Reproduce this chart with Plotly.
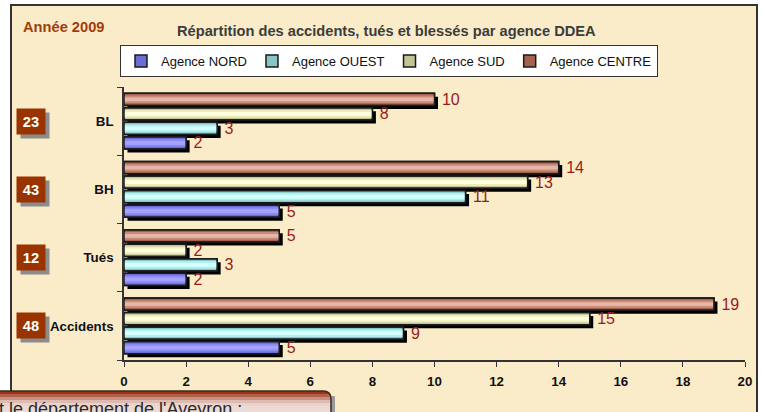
import plotly.graph_objects as go

# ---------------- data ----------------
categories = ["Accidents", "Tués", "BH", "BL"]          # bottom -> top
series_names = ["Agence NORD", "Agence OUEST", "Agence SUD", "Agence CENTRE"]
nord = [5, 2, 5, 2]
ouest = [9, 3, 11, 3]
sud = [15, 2, 13, 8]
centre = [19, 5, 14, 10]
x_ticks = [0, 2, 4, 6, 8, 10, 12, 14, 16, 18, 20]
title_text = "Répartition des accidents, tués et blessés par agence DDEA"
year_text = "Année 2009"
footer_text = "t le département de l'Aveyron :"

series_values = [nord, ouest, sud, centre]
totals = [sum(v[i] for v in series_values) for i in range(len(categories))]

# ---------------- styling ----------------
W, H = 763, 412
L, R, T, B = 124, 745, 87, 360
PANEL = "#FAECC9"
edge_cols = ["#6C6CD8", "#88C6C6", "#C4C496", "#A4624F"]
mid_cols = ["#8A8AF2", "#B4EEEE", "#ECECBE", "#C98C7A"]
light_cols = ["#A4A4FF", "#D4FFFF", "#FFFFDC", "#E8B6A6"]
label_color = "#9A1A1A"
FONT = "Liberation Sans, Arial, sans-serif"


def px_x(p):
    return (p - L) / (R - L)


def px_y(p):
    return (B - p) / (B - T)


unit_px = (R - L) / 20.0
cat_px = (B - T) / len(categories)
sh = 3.5
dx = sh / unit_px
dy = sh / cat_px

fig = go.Figure()

# 1) shadows on primary hidden axes (shifted ranges)
for vals in series_values:
    fig.add_trace(go.Bar(y=categories, x=vals, orientation="h",
                         marker=dict(color="#000000", line=dict(width=0)),
                         showlegend=False, hoverinfo="skip", xaxis="x", yaxis="y"))

# 2) base bars (legend) on x2/y2 — visible axes
for name, vals, col in zip(series_names, series_values, edge_cols):
    fig.add_trace(go.Bar(y=categories, x=vals, orientation="h", name=name,
                         marker=dict(color=col, line=dict(color="#1A1A1A", width=1.5)),
                         xaxis="x2", yaxis="y2"))

# 3) gradient bands on x3/y3 and x4/y4
for vals, col in zip(series_values, mid_cols):
    fig.add_trace(go.Bar(y=categories, x=vals, orientation="h", width=0.115,
                         marker=dict(color=col, line=dict(width=0)),
                         showlegend=False, hoverinfo="skip", xaxis="x3", yaxis="y3"))
for vals, col in zip(series_values, light_cols):
    fig.add_trace(go.Bar(y=categories, x=vals, orientation="h", width=0.055,
                         marker=dict(color=col, line=dict(width=0)),
                         showlegend=False, hoverinfo="skip", xaxis="x4", yaxis="y4"))

# 4) outlines + value labels on x5/y5
for vals in series_values:
    fig.add_trace(go.Bar(y=categories, x=vals, orientation="h",
                         marker=dict(color="rgba(0,0,0,0)", line=dict(color="#1A1A1A", width=1.5)),
                         text=[str(v) for v in vals], texttemplate=" %{text}", textposition="outside",
                         textfont=dict(color=label_color, size=16, family=FONT),
                         constraintext="none", cliponaxis=False,
                         showlegend=False, hoverinfo="skip", xaxis="x5", yaxis="y5"))

shapes = [
    dict(type="rect", xref="paper", yref="paper",
         x0=px_x(11), x1=px_x(757), y0=px_y(5), y1=px_y(430),
         fillcolor=PANEL, line=dict(color="#333333", width=2), layer="below"),
]

# footer box gradient bands
band_cols = ["#9C3517", "#B0604A", "#C8917F", "#DDBBB0", "#EAD3CC", "#EEDAD4", "#EEDAD4"]
top = 391
for i, c in enumerate(band_cols):
    y0 = top + i * 3
    y1 = y0 + 3 if i < len(band_cols) - 1 else 430
    if i == 0:
        path = (f"M {px_x(-5)},{px_y(y1)} L {px_x(-5)},{px_y(y0)} L {px_x(323)},{px_y(y0)} "
                f"Q {px_x(331)},{px_y(y0)} {px_x(331)},{px_y(y0+8)} L {px_x(331)},{px_y(y1)} Z")
        shapes.append(dict(type="path", xref="paper", yref="paper", path=path,
                           fillcolor=c, line=dict(width=0), layer="above"))
    else:
        shapes.append(dict(type="rect", xref="paper", yref="paper",
                           x0=px_x(-5), x1=px_x(331), y0=px_y(y1), y1=px_y(y0),
                           fillcolor=c, line=dict(width=0), layer="above"))
shapes.append(dict(type="rect", xref="paper", yref="paper",
                   x0=px_x(331), x1=px_x(335), y0=px_y(430), y1=px_y(396),
                   fillcolor="#9A9A9A", line=dict(width=0), layer="above"))
shapes.append(dict(type="path", xref="paper", yref="paper",
                   path=(f"M {px_x(-5)},{px_y(391)} L {px_x(323)},{px_y(391)} "
                         f"Q {px_x(331)},{px_y(391)} {px_x(331)},{px_y(399)} L {px_x(331)},{px_y(430)}"),
                   line=dict(color="#3A2A20", width=1.5), layer="above"))

annotations = [
    dict(xref="paper", yref="paper", x=px_x(21), y=px_y(27), xanchor="left", yanchor="middle",
         text=f"<b>{year_text}</b>", showarrow=False,
         font=dict(family=FONT, size=14.67, color="#A23C0C")),
    dict(xref="paper", yref="paper", x=px_x(386), y=px_y(31), xanchor="center", yanchor="middle",
         text=f"<b>{title_text}</b>", showarrow=False,
         font=dict(family=FONT, size=14.67, color="#3C3C3C")),
    dict(xref="paper", yref="paper", x=px_x(-3), y=px_y(397), xanchor="left", yanchor="top",
         text=footer_text, showarrow=False,
         font=dict(family=FONT, size=18, color="#2A2A2A")),
]

for cat, tot in zip(categories, totals):
    annotations.append(dict(xref="paper", yref="y2", x=px_x(31), y=cat, xanchor="center",
                            yanchor="middle", xshift=4, yshift=-4, text=" ", showarrow=False,
                            width=28, height=25, bgcolor="#8C8C8C", borderpad=0))
    annotations.append(dict(xref="paper", yref="y2", x=px_x(31), y=cat, xanchor="center",
                            yanchor="middle", text=f"<b>{tot}</b>", showarrow=False,
                            width=28, height=25, bgcolor="#993300", borderpad=0,
                            font=dict(family=FONT, size=14.67, color="#FFFFFF")))

axis_font = dict(family=FONT, size=13.33, color="#111111", weight="bold")
cat_range = [-0.5, len(categories) - 0.5]


def hidden_x(over, shift=0.0):
    return dict(overlaying=over, range=[0 - shift, 20 - shift], visible=False, fixedrange=True)


def hidden_y(over, shift=0.0):
    return dict(overlaying=over, type="category", categoryorder="array", categoryarray=categories,
                range=[cat_range[0] + shift, cat_range[1] + shift], visible=False)


fig.update_layout(
    width=W, height=H,
    margin=dict(l=L, r=W - R, t=T, b=H - B, pad=0, autoexpand=False),
    paper_bgcolor="#FFFFFF", plot_bgcolor=PANEL,
    barmode="group", bargap=0.15, bargroupgap=0.17,
    font=dict(family=FONT),
    shapes=shapes, annotations=annotations,
    showlegend=True,
    legend=dict(orientation="h", x=px_x(120), y=px_y(45), xanchor="left", yanchor="top",
                bgcolor="#FFFFFF", bordercolor="#333333", borderwidth=1,
                font=dict(family=FONT, size=13, color="#111111"),
                traceorder="normal", itemwidth=30),
    xaxis=dict(range=[-dx, 20 - dx], visible=False, fixedrange=True),
    yaxis=dict(type="category", categoryorder="array", categoryarray=categories,
               range=[cat_range[0] + dy, cat_range[1] + dy], visible=False),
    xaxis2=dict(overlaying="x", anchor="y2", side="bottom", range=[0, 20],
                tickvals=x_ticks, automargin=False, ticklabelstandoff=3,
                showline=True, linecolor="#333333", linewidth=1.5,
                ticks="outside", ticklen=5, tickcolor="#333333", tickwidth=1.2,
                showgrid=False, zeroline=False, tickfont=axis_font),
    yaxis2=dict(overlaying="y", anchor="x2", side="left", type="category",
                categoryorder="array", categoryarray=categories, automargin=False,
                range=cat_range, tickson="boundaries", ticklabelstandoff=6,
                showline=True, linecolor="#333333", linewidth=1.5,
                ticks="outside", ticklen=5, tickcolor="#333333", tickwidth=1.2,
                showgrid=False, zeroline=False, tickfont=axis_font),
    xaxis3=hidden_x("x"), yaxis3=hidden_y("y"),
    xaxis4=hidden_x("x"), yaxis4=hidden_y("y"),
    xaxis5=hidden_x("x"), yaxis5=hidden_y("y"),
)

fig.write_html("out.html", config={"displayModeBar": False},
               post_script="document.body.style.margin='0';document.body.style.overflow='hidden';")
